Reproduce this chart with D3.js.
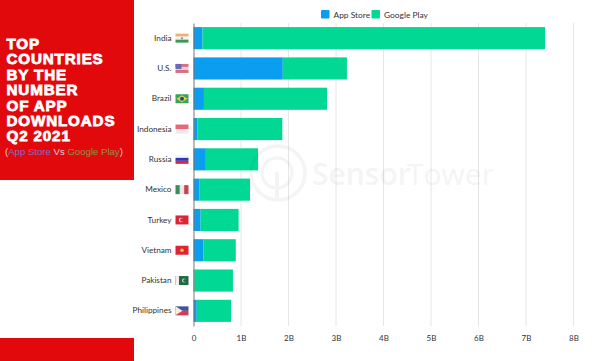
<!DOCTYPE html>
<html>
<head>
<meta charset="utf-8">
<script src="https://cdn.jsdelivr.net/npm/d3@7"></script>
<style>
  html, body { margin: 0; padding: 0; background: #fff; }
  svg { display: block; }
  text { font-family: Lato, sans-serif; }
</style>
</head>
<body>
<div class="canvas"></div>
<script>
const countries = ['India', 'U.S.', 'Brazil', 'Indonesia', 'Russia', 'Mexico', 'Turkey', 'Vietnam', 'Pakistan', 'Philippines'];
const appStore = [0.19, 1.88, 0.22, 0.08, 0.26, 0.12, 0.15, 0.21, 0.02, 0.07];
const googlePlay = [7.21, 1.35, 2.59, 1.79, 1.10, 1.07, 0.80, 0.68, 0.81, 0.72];
const xTicks = [0, 1, 2, 3, 4, 5, 6, 7, 8];
const titleLines = ['TOP', 'COUNTRIES', 'BY THE', 'NUMBER', 'OF APP', 'DOWNLOADS', 'Q2 2021'];

const blue = '#0b9df0';
const green = '#00d894';
const red = '#e2090c';

const svg = d3.select('.canvas').append('svg')
  .attr('width', 605)
  .attr('height', 361);

// red panels on the left
svg.append('rect').attr('x', 0).attr('y', 0).attr('width', 134).attr('height', 180).attr('fill', red);
svg.append('rect').attr('x', 0).attr('y', 338).attr('width', 134).attr('height', 23).attr('fill', red);

const title = svg.append('g');
title.selectAll('text')
  .data(titleLines)
  .enter().append('text')
  .attr('x', 6.5)
  .attr('y', (d, i) => 49 + i * 15.4)
  .attr('fill', '#fff')
  .attr('stroke', '#fff')
  .attr('stroke-width', 0.8)
  .style('font-family', '"Liberation Sans", sans-serif')
  .style('font-weight', 700)
  .style('font-size', '15.2px')
  .style('letter-spacing', '0.85px')
  .text(d => d);

const sub = svg.append('text')
  .attr('x', 5)
  .attr('y', 155)
  .style('font-family', '"Liberation Sans", sans-serif')
  .style('font-size', '9.6px')
  .attr('fill', '#e0d0d0');
sub.append('tspan').text('(');
sub.append('tspan').attr('fill', '#7a70c0').text('App Store');
sub.append('tspan').text(' Vs ');
sub.append('tspan').attr('fill', '#93904a').text('Google Play');
sub.append('tspan').text(')');

const margin = { left: 193.5, top: 23 };
const graphWidth = 380;
const graphHeight = 303;

const graph = svg.append('g')
  .attr('transform', `translate(${margin.left}, ${margin.top})`);

const xScale = d3.scaleLinear().domain([0, 8]).range([0, graphWidth]);
const yScale = d3.scaleBand().domain(countries).range([0, graphHeight]).paddingInner(0.27).paddingOuter(0.135);

// gridlines first so bars sit over them
graph.selectAll('.grid')
  .data(xTicks.slice(1))
  .enter().append('line')
  .attr('class', 'grid')
  .attr('x1', d => xScale(d))
  .attr('x2', d => xScale(d))
  .attr('y1', 0)
  .attr('y2', graphHeight)
  .attr('stroke', '#e6e6e6')
  .attr('stroke-width', 1);

// watermark
const mark = svg.append('g').attr('opacity', 0.04);
mark.append('circle').attr('cx', 278).attr('cy', 173).attr('r', 27).attr('fill', 'none').attr('stroke', '#000').attr('stroke-width', 3.5);
mark.append('circle').attr('cx', 277).attr('cy', 173).attr('r', 15).attr('fill', 'none').attr('stroke', '#000').attr('stroke-width', 3);
mark.append('line').attr('x1', 277).attr('x2', 277).attr('y1', 172).attr('y2', 201).attr('stroke', '#000').attr('stroke-width', 4);
mark.append('text').attr('x', 312).attr('y', 185)
  .style('font-family', '"Open Sans", sans-serif')
  .style('font-size', '30px')
  .style('font-weight', 600)
  .text('Sensor');
mark.append('text').attr('x', 407).attr('y', 185)
  .style('font-family', '"Open Sans", sans-serif')
  .style('font-size', '30px')
  .style('font-weight', 400)
  .text('Tower');

// bars
graph.selectAll('.app')
  .data(countries)
  .enter().append('rect')
  .attr('class', 'app')
  .attr('x', 0)
  .attr('y', d => yScale(d))
  .attr('width', (d, i) => xScale(appStore[i]))
  .attr('height', yScale.bandwidth())
  .attr('fill', blue);

graph.selectAll('.play')
  .data(countries)
  .enter().append('rect')
  .attr('class', 'play')
  .attr('x', (d, i) => xScale(appStore[i]))
  .attr('y', d => yScale(d))
  .attr('width', (d, i) => xScale(googlePlay[i]))
  .attr('height', yScale.bandwidth())
  .attr('fill', green);

// axes
const xAxis = graph.append('g')
  .attr('transform', `translate(0, ${graphHeight})`)
  .call(d3.axisBottom(xScale).tickValues(xTicks).tickSize(0).tickPadding(9).tickFormat(d => d === 0 ? '0' : d + 'B'));
xAxis.select('.domain').remove();
xAxis.selectAll('text').attr('fill', '#333').style('font-size', '8px').style('font-family', 'Lato, sans-serif');

const yAxis = graph.append('g')
  .call(d3.axisLeft(yScale).tickSize(0).tickPadding(22));
yAxis.select('.domain').attr('stroke', '#777').attr('stroke-width', 1);
yAxis.selectAll('text').attr('fill', '#333').style('font-size', '8.2px').style('font-family', 'Lato, sans-serif');

// little flags beside the country names
const flagW = 13;
const flagH = 9;
const flagStripes = {
  'India': ['#f2b070', '#f5f3ee', '#3a9a55'],
  'U.S.': ['#d87080', '#eccdd5', '#d87080'],
  'Brazil': ['#35a55a'],
  'Indonesia': ['#e8687a', '#efeaea'],
  'Russia': ['#f4f4f4', '#3035c0', '#d82a3a'],
  'Mexico': ['#3a8a5a', '#ece8e4', '#d04050'],
  'Turkey': ['#dd2434'],
  'Vietnam': ['#dd2434'],
  'Pakistan': ['#1f6a40'],
  'Philippines': ['#4450a0', '#d83a50']
};
const vertical = ['Mexico'];

const flags = graph.selectAll('.flag')
  .data(countries)
  .enter().append('g')
  .attr('class', 'flag')
  .attr('transform', d => `translate(-18, ${yScale(d) + yScale.bandwidth() / 2 - flagH / 2})`);

flags.each(function(name) {
  const g = d3.select(this);
  const stripes = flagStripes[name];
  const isVert = vertical.includes(name);
  g.selectAll('rect')
    .data(stripes)
    .enter().append('rect')
    .attr('x', (d, i) => isVert ? i * flagW / stripes.length : 0)
    .attr('y', (d, i) => isVert ? 0 : i * flagH / stripes.length)
    .attr('width', isVert ? flagW / stripes.length : flagW)
    .attr('height', isVert ? flagH : flagH / stripes.length)
    .attr('fill', d => d);
  if (name === 'U.S.') {
    g.append('rect').attr('width', 6).attr('height', 5).attr('fill', '#6a6ab8');
  }
  if (name === 'Brazil') {
    g.append('path').attr('d', `M1,${flagH / 2}L${flagW / 2},1L${flagW - 1},${flagH / 2}L${flagW / 2},${flagH - 1}Z`).attr('fill', '#e0d050');
    g.append('circle').attr('cx', flagW / 2).attr('cy', flagH / 2).attr('r', 2).attr('fill', '#34437f');
  }
  if (name === 'Turkey') {
    g.append('circle').attr('cx', 5.5).attr('cy', flagH / 2).attr('r', 2.2).attr('fill', '#f6dcdc');
    g.append('circle').attr('cx', 6.3).attr('cy', flagH / 2).attr('r', 1.7).attr('fill', '#dd2434');
  }
  if (name === 'Vietnam') {
    g.append('circle').attr('cx', flagW / 2).attr('cy', flagH / 2).attr('r', 1.8).attr('fill', '#eec040');
  }
  if (name === 'Pakistan') {
    g.append('rect').attr('width', 3.5).attr('height', flagH).attr('fill', '#f0f0f0');
    g.append('circle').attr('cx', 8.5).attr('cy', flagH / 2).attr('r', 2).attr('fill', '#cfe0d4');
    g.append('circle').attr('cx', 9.2).attr('cy', flagH / 2).attr('r', 1.5).attr('fill', '#1f6a40');
  }
  if (name === 'Philippines') {
    g.append('path').attr('d', `M0,0L7,${flagH / 2}L0,${flagH}Z`).attr('fill', '#f2efd8');
  }
  if (name === 'India') {
    g.append('circle').attr('cx', flagW / 2).attr('cy', flagH / 2).attr('r', 1).attr('fill', '#7a7ab0');
  }
});

// legend
const legendItems = [
  { label: 'App Store', color: blue, x: 321 },
  { label: 'Google Play', color: green, x: 371.5 }
];
const legend = svg.selectAll('.legend')
  .data(legendItems)
  .enter().append('g')
  .attr('class', 'legend')
  .attr('transform', d => `translate(${d.x}, 10)`);
legend.append('rect').attr('width', 8.5).attr('height', 8.5).attr('rx', 1).attr('fill', d => d.color);
legend.append('text').attr('x', 12.5).attr('y', 8).attr('fill', '#333').style('font-size', '8.4px').text(d => d.label);
</script>
</body>
</html>
